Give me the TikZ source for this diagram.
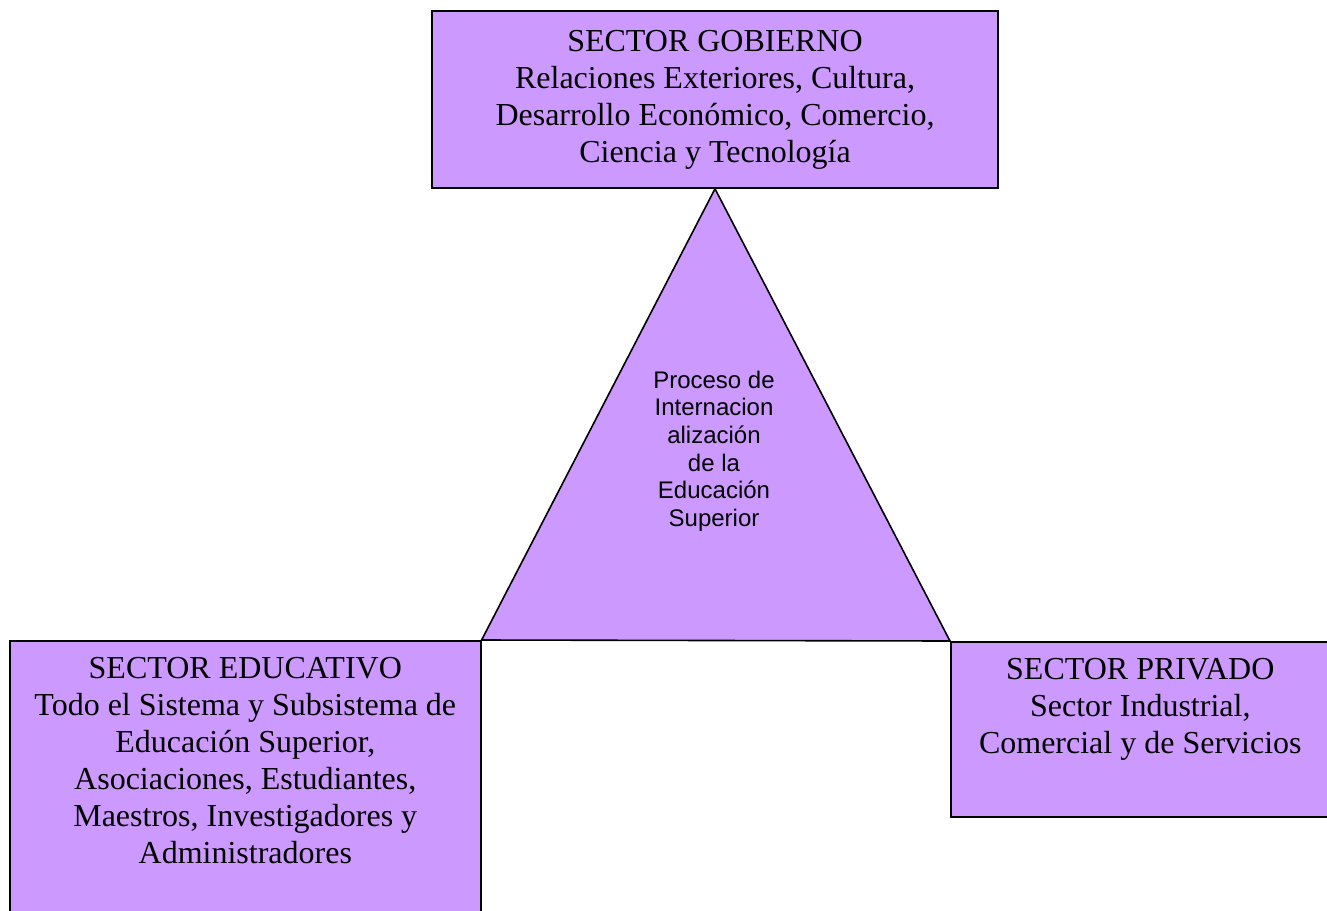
\documentclass[tikz,border=0pt]{standalone}
\usepackage{fontspec}
\setmainfont{Liberation Serif}
\newfontfamily\arialfont{Liberation Sans}
\usetikzlibrary{positioning}
\definecolor{lila}{HTML}{CC99FF}
\begin{document}
\begin{tikzpicture}[x=0.75pt, y=-0.75pt,
    caja/.style={rectangle, draw, fill=lila, line width=1.2pt, inner sep=0pt},
    texto/.style={align=center, inner sep=0pt, font=\fontsize{24}{27.75}\selectfont}]

    \path[use as bounding box, clip] (0,0) rectangle (1327,910);

    \node [caja, minimum width=424.5pt, minimum height=132.75pt] (gob) at (715,99.5) {};
    \node [caja, minimum width=353.25pt, minimum height=225pt, anchor=north west] (edu) at (9,640) {};
    \node [caja, minimum width=284.25pt, minimum height=131.25pt, anchor=north west] (pri) at (950,641) {};

    \draw[fill=lila, line width=1.2pt] (gob.south) -- (edu.north east) -- (pri.north west) -- cycle;

    \node [texto, below=15pt of gob.north] (gobt) {SECTOR GOBIERNO\\Relaciones Exteriores, Cultura,\\Desarrollo Económico, Comercio,\\Ciencia y Tecnología};
    \node [texto, below=12.75pt of edu.north] (edut) {SECTOR EDUCATIVO\\Todo el Sistema y Subsistema de\\Educación Superior,\\Asociaciones, Estudiantes,\\Maestros, Investigadores y\\Administradores};
    \node [texto, below=12.75pt of pri.north] (prit) {SECTOR PRIVADO\\Sector Industrial,\\Comercial y de Servicios};

    \node [align=center, inner sep=0pt, font=\arialfont\fontsize{18}{20.7}\selectfont] (proc) at (714,451) {Proceso de\\Internacion\\alización\\de la\\Educación\\Superior};

\end{tikzpicture}
\end{document}
